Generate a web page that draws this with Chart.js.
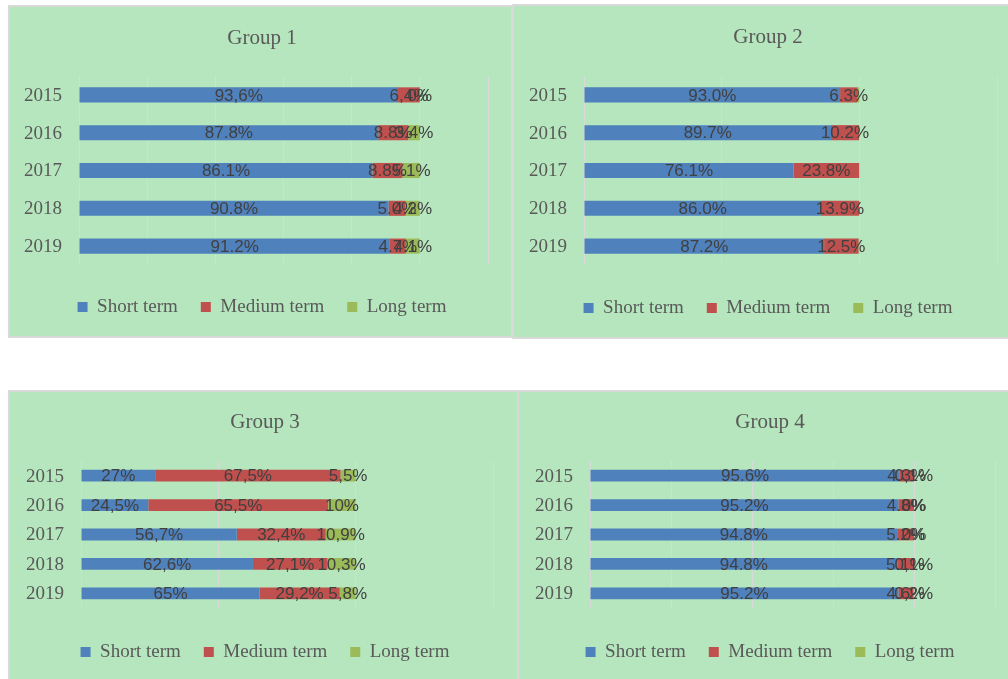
<!DOCTYPE html>
<html>
<head>
<meta charset="utf-8">
<script src="https://cdn.jsdelivr.net/npm/chart.js@4/dist/chart.umd.min.js"></script>
<style>
  html, body { margin: 0; padding: 0; background: #ffffff; width: 1008px; height: 679px; overflow: hidden; position: relative; }
  .panel { position: absolute; background: #b5e6bd; border: 2px solid #d9d9d9; box-sizing: border-box; overflow: hidden; }
  .panel canvas { position: absolute; left: 0; top: 0; }
</style>
</head>
<body>
<div class="panel" style="left:8px;top:5px;width:505px;height:333px"><canvas id="c1" width="501" height="329"></canvas></div>
<div class="panel" style="left:512px;top:4px;width:500px;height:335px"><canvas id="c2" width="494" height="331"></canvas></div>
<div class="panel" style="left:8px;top:390px;width:511px;height:300px"><canvas id="c3" width="507" height="287"></canvas></div>
<div class="panel" style="left:517px;top:390px;width:495px;height:300px"><canvas id="c4" width="489" height="287"></canvas></div>
<script>
// Years shown on the category axis
const years = ['2015', '2016', '2017', '2018', '2019'];
const seriesNames = ['Short term', 'Medium term', 'Long term'];

// Shares per group and term, written exactly as they are labelled on the bars
const g1Short  = ['93,6%', '87.8%', '86.1%', '90.8%', '91.2%'];
const g1Medium = ['6,4%', '8.8%', '8.8%', '5.0%', '4.7%'];
const g1Long   = ['0%', '3.4%', '5.1%', '4.2%', '4.1%'];

const g2Short  = ['93.0%', '89.7%', '76.1%', '86.0%', '87.2%'];
const g2Medium = ['6.3%', '10.2%', '23.8%', '13.9%', '12.5%'];
const g2Long   = [0.7, 0.1, 0.1, 0.1, 0.3]; // slivers too thin to carry a label

const g3Short  = ['27%', '24,5%', '56,7%', '62,6%', '65%'];
const g3Medium = ['67,5%', '65,5%', '32,4%', '27,1%', '29,2%'];
const g3Long   = ['5,5%', '10%', '10,9%', '10,3%', '5,8%'];

const g4Short  = ['95.6%', '95.2%', '94.8%', '94.8%', '95.2%'];
const g4Medium = ['4.3%', '4.8%', '5.2%', '5.1%', '4.6%'];
const g4Long   = ['0,1%', '0%', '0%', '0,1%', '0,2%'];

const termColors = ['#4f81bd', '#c0504d', '#9bbb59'];

const toNumber = v => typeof v === 'number' ? v : parseFloat(v.replace(',', '.'));
const toText = v => typeof v === 'string' ? v : null;

// Writes each segment's label in the middle of its bar piece
const segmentLabels = {
  id: 'segmentLabels',
  afterDatasetsDraw(chart) {
    const ctx = chart.ctx;
    ctx.save();
    ctx.font = '17px "Liberation Sans", Arial, sans-serif';
    ctx.fillStyle = '#404040';
    ctx.textAlign = 'center';
    ctx.textBaseline = 'middle';
    chart.data.datasets.forEach((ds, i) => {
      const meta = chart.getDatasetMeta(i);
      meta.data.forEach((bar, j) => {
        const text = ds.labelTexts[j];
        if (!text) return;
        const p = bar.getProps(['x', 'y', 'base'], true);
        ctx.fillText(text, (p.x + p.base) / 2, p.y + 1);
      });
    });
    ctx.restore();
  }
};

const serif = 'Liberation Serif, "Times New Roman", serif';

function groupChart(canvasId, title, series, axis, box) {
  const datasets = series.map((values, k) => ({
    label: seriesNames[k],
    data: values.map(toNumber),
    labelTexts: values.map(toText),
    backgroundColor: termColors[k],
    borderColor: termColors[k],
    borderWidth: 0,
    barPercentage: 0.4,
    categoryPercentage: 1
  }));
  return new Chart(document.getElementById(canvasId), {
    type: 'bar',
    data: { labels: years, datasets },
    plugins: [segmentLabels],
    options: {
      indexAxis: 'y',
      responsive: false,
      animation: false,
      devicePixelRatio: 1,
      layout: { padding: { left: box.padLeft, right: 0, top: 0, bottom: box.padBottom } },
      scales: {
        x: {
          stacked: true,
          min: 0,
          max: axis.max,
          ticks: { display: false, stepSize: axis.step },
          grid: { color: '#d9d9d9', lineWidth: 1, drawTicks: false },
          border: { display: false },
          afterFit: s => { s.height = box.xHeight; }
        },
        y: {
          stacked: true,
          offset: true,
          grid: { display: false, drawTicks: false },
          border: { display: false },
          ticks: { color: '#595959', padding: 17, labelOffset: 1, font: { family: serif, size: 19 } },
          afterFit: s => { s.width = box.yWidth; }
        },
        yRight: {
          type: 'category',
          position: 'right',
          display: true,
          grid: { display: false, drawTicks: false },
          border: { display: false },
          ticks: { display: false },
          afterFit: s => { s.width = box.rightWidth; }
        }
      },
      plugins: {
        title: {
          display: true,
          text: title,
          color: '#595959',
          font: { family: serif, size: 21, weight: 'normal' },
          padding: { top: box.titleTop, bottom: box.titleBottom }
        },
        legend: {
          position: 'bottom',
          labels: {
            color: '#595959',
            font: { family: serif, size: 19 },
            boxWidth: 10,
            boxHeight: 10,
            padding: 23
          }
        },
        tooltip: { enabled: false }
      }
    }
  });
}

groupChart('c1', 'Group 1', [g1Short, g1Medium, g1Long], { max: 120, step: 20 },
  { padLeft: 3, yWidth: 66, rightWidth: 23, titleTop: 18.4, titleBottom: 25.4, xHeight: 9.5, padBottom: 9.5 });
groupChart('c2', 'Group 2', [g2Short, g2Medium, g2Long], { max: 150, step: 50 },
  { padLeft: 14, yWidth: 56, rightWidth: 11, titleTop: 18.4, titleBottom: 26.4, xHeight: 10.5, padBottom: 9.5 });
groupChart('c3', 'Group 3', [g3Short, g3Medium, g3Long], { max: 150, step: 50 },
  { padLeft: 3, yWidth: 68, rightWidth: 24, titleTop: 17.4, titleBottom: 26.4, xHeight: 11.5, padBottom: 7.5 });
groupChart('c4', 'Group 4', [g4Short, g4Medium, g4Long], { max: 125, step: 25 },
  { padLeft: 13, yWidth: 58, rightWidth: 13, titleTop: 17.4, titleBottom: 26.4, xHeight: 11.5, padBottom: 7.5 });
</script>
</body>
</html>
